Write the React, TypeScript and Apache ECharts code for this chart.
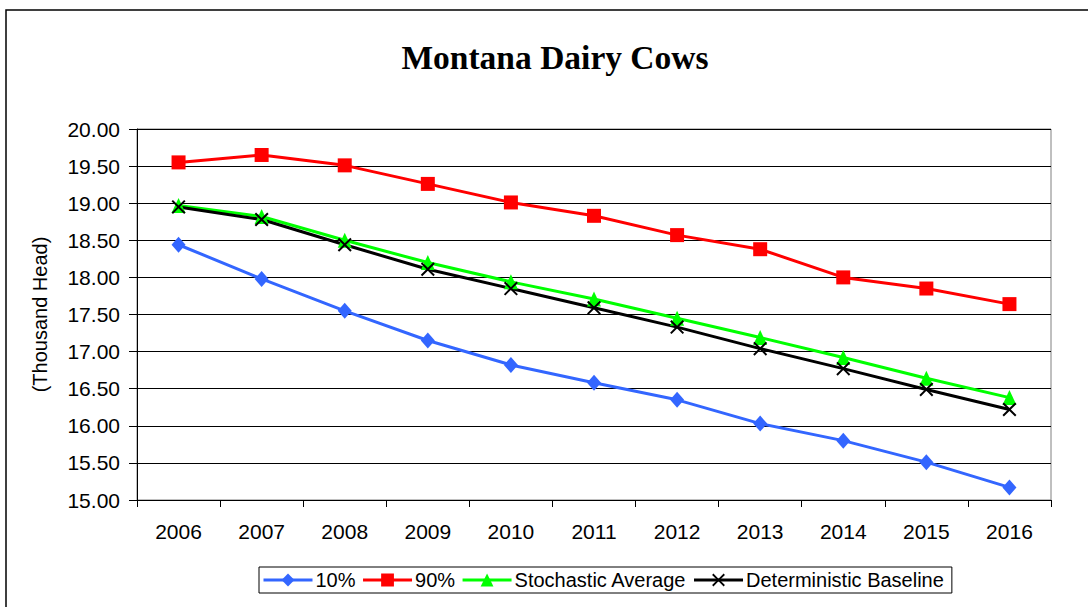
import React, { useEffect, useRef } from "react";
import * as echarts from "echarts";

const years = ["2006", "2007", "2008", "2009", "2010", "2011", "2012", "2013", "2014", "2015", "2016"];
const p10 = [18.44, 17.98, 17.55, 17.15, 16.82, 16.58, 16.35, 16.03, 15.80, 15.51, 15.17];
const p90 = [19.55, 19.65, 19.51, 19.26, 19.01, 18.83, 18.57, 18.38, 18.00, 17.85, 17.64];
const stochAvg = [18.97, 18.82, 18.50, 18.20, 17.94, 17.71, 17.45, 17.19, 16.92, 16.64, 16.38];
const detBase = [18.95, 18.78, 18.44, 18.11, 17.85, 17.59, 17.33, 17.04, 16.77, 16.49, 16.22];
const seriesNames = ["10%", "90%", "Stochastic Average", "Deterministic Baseline"];

const xSymbol =
  "path://M0,1.2L1.2,0L6,4.8L10.8,0L12,1.2L7.2,6L12,10.8L10.8,12L6,7.2L1.2,12L0,10.8L4.8,6Z";

export default function App() {
  const ref = useRef<HTMLDivElement>(null);
  useEffect(() => {
    if (!ref.current) return;
    const chart = echarts.init(ref.current, undefined, { renderer: "svg" });
    const font = "Liberation Sans, Arial, sans-serif";
    chart.setOption({
      animation: false,
      backgroundColor: "#ffffff",
      title: {
        text: "Montana Dairy Cows",
        left: 550,
        top: 35,
        textAlign: "center",
        textStyle: {
          fontFamily: "Liberation Serif, Times New Roman, serif",
          fontWeight: "bold",
          fontSize: 33.5,
          color: "#000",
        },
      },
      graphic: [
        {
          type: "rect",
          shape: { x: 6, y: 10, width: 1200, height: 800 },
          style: { fill: "none", stroke: "#000", lineWidth: 1.5 },
          silent: true,
          z: -1,
        },
      ],
      legend: {
        left: 259,
        top: 567,
        orient: "horizontal",
        data: seriesNames,
        itemWidth: 49,
        itemHeight: 16,
        itemGap: 6,
        borderColor: "#000",
        borderWidth: 1,
        borderRadius: 0,
        padding: [3, 8, 3, 3],
        lineStyle: { width: 3 },
        textStyle: { fontFamily: font, fontSize: 20, color: "#000", padding: [0, 0, 0, -2] },
      },
      grid: {
        left: 137,
        right: 37,
        top: 129,
        bottom: 107,
        show: true,
        borderColor: "#808080",
        borderWidth: 1,
        containLabel: false,
      },
      xAxis: {
        type: "category",
        data: years,
        boundaryGap: true,
        axisLine: { lineStyle: { color: "#000", width: 1 } },
        axisTick: { show: true, length: 7, lineStyle: { color: "#000" } },
        axisLabel: { fontFamily: font, fontSize: 21, color: "#000", margin: 21 },
        splitLine: { show: false },
      },
      yAxis: {
        type: "value",
        min: 15,
        max: 20,
        interval: 0.5,
        name: "(Thousand Head)",
        nameLocation: "middle",
        nameGap: 87,
        nameRotate: 90,
        nameTextStyle: { fontFamily: font, fontSize: 20, color: "#000" },
        axisLine: { show: true, lineStyle: { color: "#000", width: 1 } },
        axisTick: { show: true, length: 8, lineStyle: { color: "#000" } },
        axisLabel: {
          fontFamily: font,
          fontSize: 21,
          color: "#000",
          margin: 17,
          formatter: (v: number) => v.toFixed(2),
        },
        splitLine: { show: true, lineStyle: { color: "#000", width: 1 } },
      },
      series: [
        {
          name: seriesNames[0],
          type: "line",
          data: p10,
          symbol: "diamond",
          symbolSize: [14, 16],
          lineStyle: { color: "#3366FF", width: 3 },
          itemStyle: { color: "#3366FF" },
        },
        {
          name: seriesNames[1],
          type: "line",
          data: p90,
          symbol: "rect",
          symbolSize: 14,
          lineStyle: { color: "#FF0000", width: 3 },
          itemStyle: { color: "#FF0000" },
        },
        {
          name: seriesNames[2],
          type: "line",
          data: stochAvg,
          symbol: "triangle",
          symbolSize: [14, 15],
          lineStyle: { color: "#00FF00", width: 3 },
          itemStyle: { color: "#00FF00" },
        },
        {
          name: seriesNames[3],
          type: "line",
          data: detBase,
          symbol: xSymbol,
          symbolSize: 14,
          lineStyle: { color: "#000000", width: 3 },
          itemStyle: { color: "#000000" },
        },
      ],
    });
    return () => chart.dispose();
  }, []);
  return (
    <div
      ref={ref}
      style={{ position: "absolute", left: 0, top: 0, width: 1088, height: 607 }}
    />
  );
}
